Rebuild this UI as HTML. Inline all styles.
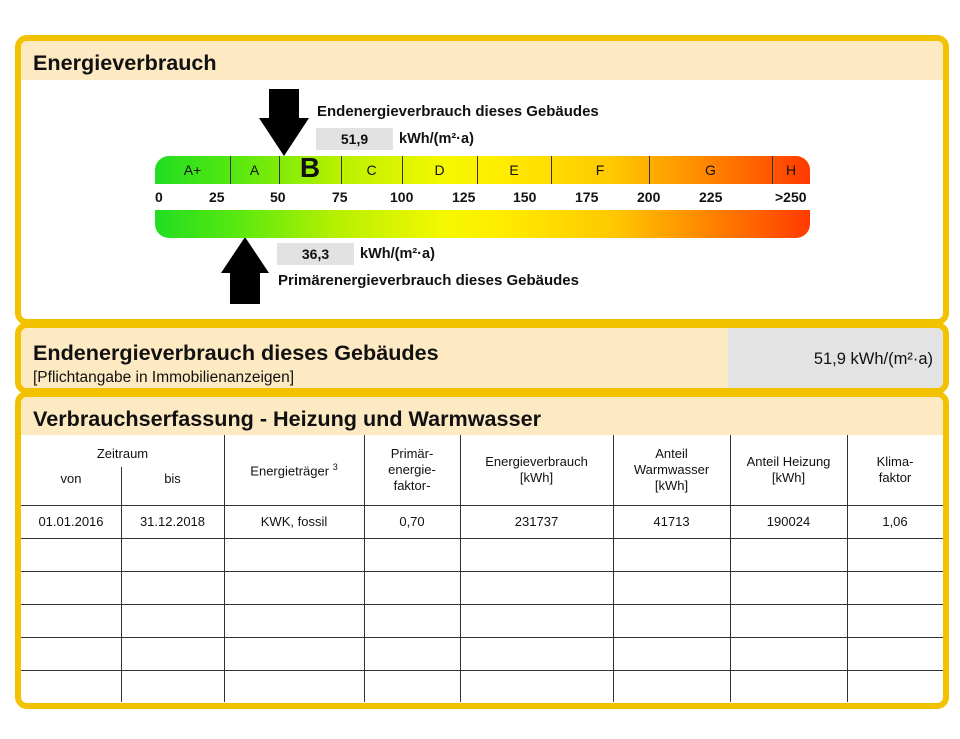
<!DOCTYPE html>
<html><head><meta charset="utf-8"><style>
*{margin:0;padding:0;box-sizing:border-box}
body{width:960px;height:739px;background:#fff;position:relative;font-family:"Liberation Sans",Arial,sans-serif;color:#111;overflow:hidden}
.a{position:absolute}
.box{position:absolute;border:6px solid #f2c200;border-radius:12px;background:#fff;overflow:hidden}
.hd{position:absolute;background:#fde9c2;font-weight:bold;font-size:21.6px}
.b{font-weight:bold}
.grad{background:linear-gradient(to right,#22dd22 0%,#55e810 12%,#b8f000 28%,#f4f800 44%,#ffee00 52%,#ffc800 70%,#ff9000 82%,#ff3a00 100%)}
.vl{position:absolute;width:1px;background:#333}
.hl{position:absolute;height:1px;background:#333}
.c{position:absolute;text-align:center;font-size:13px}
</style></head><body>
<div class="box" style="left:15px;top:35px;width:934px;height:290px">
 <div class="hd" style="left:0;top:0;width:922px;height:39px;padding:9px 0 0 12px">Energieverbrauch</div>
</div>
<div class="a" style="left:269px;top:89px;width:30px;height:30px;background:#000"></div>
<div class="a" style="left:259px;top:118px;width:0;height:0;border-left:25px solid transparent;border-right:25px solid transparent;border-top:38px solid #000"></div>
<div class="a" style="left:221px;top:237px;width:0;height:0;border-left:24px solid transparent;border-right:24px solid transparent;border-bottom:36px solid #000"></div>
<div class="a" style="left:230px;top:272px;width:30px;height:32px;background:#000"></div>
<div class="a b" style="left:317px;top:103px;font-size:15px">Endenergieverbrauch dieses Gebäudes</div>
<div class="a b" style="left:316px;top:128px;width:77px;height:22px;background:#e2e2e2;text-align:center;font-size:14px;line-height:22px">51,9</div>
<div class="a b" style="left:399px;top:131px;font-size:14.5px">kWh/(m²·a)</div>
<div class="a grad" style="left:155px;top:156px;width:655px;height:28px;border-radius:14px 14px 0 0"></div>
<div class="vl" style="left:230px;top:156px;height:28px"></div>
<div class="vl" style="left:279px;top:156px;height:28px"></div>
<div class="vl" style="left:341px;top:156px;height:28px"></div>
<div class="vl" style="left:402px;top:156px;height:28px"></div>
<div class="vl" style="left:477px;top:156px;height:28px"></div>
<div class="vl" style="left:551px;top:156px;height:28px"></div>
<div class="vl" style="left:649px;top:156px;height:28px"></div>
<div class="vl" style="left:772px;top:156px;height:28px"></div>
<div class="c" style="left:155px;top:162px;width:75px;font-size:14px">A+</div>
<div class="c" style="left:230px;top:162px;width:49px;font-size:14px">A</div>
<div class="c b" style="left:279px;top:152px;width:62px;font-size:28px">B</div>
<div class="c" style="left:341px;top:162px;width:61px;font-size:14px">C</div>
<div class="c" style="left:402px;top:162px;width:75px;font-size:14px">D</div>
<div class="c" style="left:477px;top:162px;width:74px;font-size:14px">E</div>
<div class="c" style="left:551px;top:162px;width:98px;font-size:14px">F</div>
<div class="c" style="left:649px;top:162px;width:123px;font-size:14px">G</div>
<div class="c" style="left:772px;top:162px;width:38px;font-size:14px">H</div>
<div class="a b" style="left:0;top:189px;width:960px;font-size:14px">
<span class="a" style="left:155px">0</span>
<span class="a" style="left:209px">25</span>
<span class="a" style="left:270px">50</span>
<span class="a" style="left:332px">75</span>
<span class="a" style="left:390px">100</span>
<span class="a" style="left:452px">125</span>
<span class="a" style="left:513px">150</span>
<span class="a" style="left:575px">175</span>
<span class="a" style="left:637px">200</span>
<span class="a" style="left:699px">225</span>
<span class="a" style="left:775px">&gt;250</span>
</div>
<div class="a grad" style="left:155px;top:210px;width:655px;height:28px;border-radius:0 0 14px 14px"></div>
<div class="a b" style="left:277px;top:243px;width:77px;height:22px;background:#e2e2e2;text-align:center;font-size:14px;line-height:22px">36,3</div>
<div class="a b" style="left:360px;top:246px;font-size:14.5px">kWh/(m²·a)</div>
<div class="a b" style="left:278px;top:272px;font-size:15px">Primärenergieverbrauch dieses Gebäudes</div>
<div class="box" style="left:15px;top:322px;width:934px;height:72px">
 <div class="hd" style="left:0;top:0;width:707px;height:60px;padding:12px 0 0 12px">Endenergieverbrauch dieses Gebäudes<div style="font-weight:normal;font-size:15.5px;margin-top:3px">[Pflichtangabe in Immobilienanzeigen]</div></div>
 <div class="a" style="left:707px;top:0;width:215px;height:60px;background:#e3e3e3;font-size:16.5px;text-align:right;padding:22px 10px 0 0">51,9 kWh/(m²·a)</div>
</div>
<div class="box" style="left:15px;top:391px;width:934px;height:318px">
 <div class="hd" style="left:0;top:0;width:922px;height:38px;padding:9px 0 0 12px">Verbrauchserfassung - Heizung und Warmwasser</div>
</div>
<div class="vl" style="left:121px;top:467px;height:235px"></div>
<div class="vl" style="left:224px;top:435px;height:267px"></div>
<div class="vl" style="left:364px;top:435px;height:267px"></div>
<div class="vl" style="left:460px;top:435px;height:267px"></div>
<div class="vl" style="left:613px;top:435px;height:267px"></div>
<div class="vl" style="left:730px;top:435px;height:267px"></div>
<div class="vl" style="left:847px;top:435px;height:267px"></div>
<div class="hl" style="left:21px;top:505px;width:922px"></div>
<div class="hl" style="left:21px;top:538px;width:922px"></div>
<div class="hl" style="left:21px;top:571px;width:922px"></div>
<div class="hl" style="left:21px;top:604px;width:922px"></div>
<div class="hl" style="left:21px;top:637px;width:922px"></div>
<div class="hl" style="left:21px;top:670px;width:922px"></div>
<div class="c" style="left:21px;top:446px;width:203px">Zeitraum</div>
<div class="c" style="left:21px;top:471px;width:100px">von</div>
<div class="c" style="left:121px;top:471px;width:103px">bis</div>
<div class="c" style="left:224px;top:462px;width:140px">Energieträger <sup style="font-size:9px">3</sup></div>
<div class="c" style="left:364px;top:446px;width:96px;line-height:16px">Primär-<br>energie-<br>faktor-</div>
<div class="c" style="left:460px;top:454px;width:153px;line-height:16px">Energieverbrauch<br>[kWh]</div>
<div class="c" style="left:613px;top:446px;width:117px;line-height:16px">Anteil<br>Warmwasser<br>[kWh]</div>
<div class="c" style="left:730px;top:454px;width:117px;line-height:16px">Anteil Heizung<br>[kWh]</div>
<div class="c" style="left:847px;top:454px;width:96px;line-height:16px">Klima-<br>faktor</div>
<div class="c" style="left:21px;top:514px;width:100px">01.01.2016</div>
<div class="c" style="left:121px;top:514px;width:103px">31.12.2018</div>
<div class="c" style="left:224px;top:514px;width:140px">KWK, fossil</div>
<div class="c" style="left:364px;top:514px;width:96px">0,70</div>
<div class="c" style="left:460px;top:514px;width:153px">231737</div>
<div class="c" style="left:613px;top:514px;width:117px">41713</div>
<div class="c" style="left:730px;top:514px;width:117px">190024</div>
<div class="c" style="left:847px;top:514px;width:96px">1,06</div>
</body></html>
